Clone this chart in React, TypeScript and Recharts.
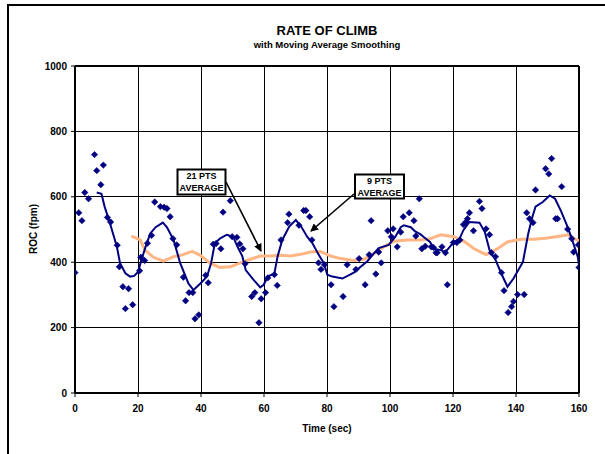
import React from "react";
import {
  ComposedChart,
  Scatter,
  Line,
  XAxis,
  YAxis,
  CartesianGrid,
  ReferenceLine,
} from "recharts";

// measured ROC samples (time in sec, rate of climb in fpm)
const TIME = [
  0, 1.2, 2.2, 3.1, 4.3, 6.2, 6.9, 8.2, 9.0, 10.3, 11.3, 13.4, 14.1, 15.2, 16.0, 17.0, 18.3,
  20.5, 20.9, 22.1, 23.0, 24.3, 25.3, 27.1, 28.3, 29.2, 30.2, 31.1, 32.3, 34.4, 35.1, 36.2,
  37.4, 38.1, 39.3, 41.5, 42.3, 43.9, 44.8, 46.3, 47.0, 49.3, 49.9, 51.4, 52.3, 53.3, 54.0,
  56.1, 57.1, 58.4, 59.1, 60.5, 61.2, 63.3, 64.2, 65.4, 67.5, 67.9, 71.1, 72.6, 73.3, 74.5,
  75.2, 77.3, 78.1, 79.2, 81.3, 82.2, 85.1, 86.4, 89.2, 90.2, 92.1, 93.4, 94.0, 95.5, 96.4,
  97.2, 99.3, 100.4, 101.0, 102.3, 103.4, 104.2, 106.1, 107.6, 108.2, 109.3, 110.1, 111.2,
  113.1, 113.8, 114.6, 115.0, 116.5, 117.6, 118.2, 120.1, 121.2, 122.2, 123.3, 124.1, 124.6,
  125.2, 126.5, 128.4, 129.2, 130.5, 131.6, 132.2, 133.5, 135.4, 136.2, 137.5, 138.6, 139.2,
  140.5, 142.6, 143.4, 144.3, 145.4, 146.2, 149.4, 150.4, 151.3, 152.6, 153.2, 154.5, 156.4,
  157.7, 158.3, 159.8, 160,
];
const ROC = [
  368, 551, 527, 613, 594, 729, 680, 637, 697, 537, 523, 452, 386, 325, 258, 319, 270,
  374, 415, 405, 458, 482, 584, 570, 568, 564, 539, 472, 453, 354, 282, 307,
  307, 227, 239, 360, 337, 455, 457, 441, 553, 588, 478, 476, 456, 441, 395,
  295, 307, 215, 288, 307, 352, 362, 329, 468, 521, 547, 513, 558, 558, 539,
  468, 398, 378, 392, 331, 264, 295, 392, 378, 411, 331, 423, 527, 364, 431,
  398, 496, 478, 502, 447, 492, 539, 551, 527, 480, 594, 441, 449,
  447, 445, 429, 429, 447, 429, 331, 460, 460, 468, 515, 523, 533,
  551, 496, 586, 564, 502, 484, 429, 417, 368, 313, 246, 264, 280,
  301, 301, 551, 533, 521, 621, 686, 670, 717, 533, 533, 631, 501,
  472, 431, 453, 384,
];

// 9 point moving average
const MA9_TIME = [
  6.9, 8.4, 9.4, 11.1, 13.3, 14.3, 16.0, 17.5, 18.8, 20.0, 21.1, 22.4, 23.9, 25.6, 27.9, 29.2,
  31.3, 33.4, 36.0, 37.6, 39.8, 41.9, 43.2, 44.4, 46.1, 48.2, 50.2, 51.6, 53.1, 54.2, 56.7,
  58.8, 59.9, 61.2, 63.3, 64.3, 65.8, 68.0, 70.1, 71.8, 73.7, 75.4, 77.1, 79.0, 80.1, 81.7,
  84.9, 88.5, 90.2, 92.8, 95.1, 96.4, 99.6, 101.7, 103.4, 104.4, 106.6, 108.0, 109.7, 111.0,
  112.7, 114.0, 116.1, 117.6, 120.3, 122.0, 123.3, 125.2, 128.4, 130.1, 131.6, 133.5, 135.4,
  137.3, 139.2, 142.2, 143.9, 145.1, 146.2, 148.5, 150.7, 152.4, 154.3, 156.4, 157.7, 159.6, 160,
];
const MA9 = [
  613, 609, 570, 519, 447, 397, 366, 356, 358, 370, 407, 447, 488, 507, 521, 507,
  468, 397, 335, 315, 335, 356, 397, 458, 473, 484, 478, 447, 419, 376, 346,
  323, 331, 356, 366, 417, 468, 509, 529, 509, 478, 458, 427, 397, 362, 356,
  350, 368, 382, 403, 429, 443, 453, 478, 507, 513, 507, 494, 485, 475,
  462, 441, 437, 431, 462, 470, 498, 523, 521, 492, 437, 407, 364,
  325, 350, 401, 488, 535, 570, 584, 604, 594, 556, 507, 472, 417, 390,
];

// 21 point moving average
const MA21_TIME = [
  17.9, 20.7, 22.2, 24.9, 28.1, 31.3, 33.6, 37.2, 39.8, 42.9, 45.9, 49.3, 52.5, 55.7, 58.8,
  62.0, 65.2, 68.4, 71.6, 74.7, 77.9, 81.1, 84.3, 88.5, 91.7, 94.9, 98.1, 101.2, 105.5, 109.7,
  112.9, 116.1, 120.3, 123.5, 126.7, 130.5, 134.1, 137.3, 141.5, 145.8, 150.0, 154.3, 156.4,
  158.5, 160,
];
const MA21 = [
  480, 468, 437, 415, 403, 417, 421, 433, 421, 397, 384, 386, 398, 409, 419,
  419, 421, 419, 424, 431, 433, 419, 411, 405, 409, 427, 447, 464, 468, 468,
  472, 484, 478, 464, 441, 423, 441, 462, 470, 470, 474, 480, 484,
  472, 465,
];

const X_TICKS = [0, 20, 40, 60, 80, 100, 120, 140, 160];
const Y_TICKS = [0, 200, 400, 600, 800, 1000];

const points = TIME.map((t, i) => ({ t, v: ROC[i] }));
const ma9 = MA9_TIME.map((t, i) => ({ t, v: MA9[i] }));
const ma21 = MA21_TIME.map((t, i) => ({ t, v: MA21[i] }));

const NAVY = "#000080";
const PEACH = "#FFB584";
const FONT = "'Liberation Sans', Arial, sans-serif";

const Diamond = (props: any) => {
  const { cx, cy } = props;
  if (cx == null || cy == null) return null;
  const r = 3.2;
  return (
    <polygon
      points={`${cx},${cy - r} ${cx + r},${cy} ${cx},${cy + r} ${cx - r},${cy}`}
      fill={NAVY}
      stroke={NAVY}
      strokeWidth={0.6}
    />
  );
};

const tickStyle = { fontFamily: FONT, fontSize: 10, fontWeight: 700, fill: "#000" };

export default function App() {
  return (
    <div
      style={{
        position: "absolute",
        left: 0,
        top: 0,
        width: 605,
        height: 454,
        overflow: "hidden",
        background: "#fff",
        fontFamily: FONT,
      }}
    >
      {/* outer chart frame */}
      <div
        style={{
          position: "absolute",
          left: 7,
          top: 4,
          width: 640,
          height: 500,
          border: "2px solid #000",
        }}
      />
      <div style={{ position: "absolute", left: 0, top: 0 }}>
        <ComposedChart
          width={605}
          height={454}
          margin={{ top: 66, right: 26, bottom: 31, left: 0 }}
        >
          <CartesianGrid stroke="#000" strokeWidth={1} shapeRendering="crispEdges" />
          <XAxis
            dataKey="t"
            type="number"
            domain={[0, 160]}
            ticks={X_TICKS}
            interval={0}
            allowDataOverflow
            height={30}
            tickSize={4}
            tickMargin={8}
            axisLine={{ stroke: "#000", strokeWidth: 2 }}
            tickLine={{ stroke: "#000", strokeWidth: 1 }}
            tick={tickStyle}
          />
          <YAxis
            dataKey="v"
            type="number"
            domain={[0, 1000]}
            ticks={Y_TICKS}
            interval={0}
            width={75}
            tickSize={4}
            tickMargin={4}
            axisLine={{ stroke: "#000", strokeWidth: 2 }}
            tickLine={{ stroke: "#000", strokeWidth: 1 }}
            tick={tickStyle}
          />
          <ReferenceLine x={160} stroke="#000" strokeWidth={2} />
          <ReferenceLine y={1000} stroke="#000" strokeWidth={2} />
          <Line
            data={ma21}
            dataKey="v"
            type="linear"
            stroke={PEACH}
            strokeWidth={3}
            dot={false}
            isAnimationActive={false}
          />
          <Scatter
            data={points}
            dataKey="v"
            shape={Diamond}
            isAnimationActive={false}
          />
          <Line
            data={ma9}
            dataKey="v"
            type="linear"
            stroke={NAVY}
            strokeWidth={2}
            dot={false}
            isAnimationActive={false}
          />
        </ComposedChart>
      </div>

      {/* titles and annotations */}
      <svg
        width={605}
        height={454}
        style={{ position: "absolute", left: 0, top: 0, pointerEvents: "none" }}
        fontFamily={FONT}
        fontWeight={700}
      >
        <text x={327} y={35} textAnchor="middle" fontSize={13}>
          RATE OF CLIMB
        </text>
        <text x={327} y={48} textAnchor="middle" fontSize={9.5}>
          with Moving Average Smoothing
        </text>
        <text x={327} y={432} textAnchor="middle" fontSize={10}>
          Time (sec)
        </text>
        <text
          x={0}
          y={0}
          textAnchor="middle"
          fontSize={10}
          transform="translate(37 229) rotate(-90)"
        >
          ROC (fpm)
        </text>

        <defs>
          <marker
            id="arrow"
            markerWidth={8}
            markerHeight={8}
            refX={7}
            refY={4}
            orient="auto"
            markerUnits="userSpaceOnUse"
          >
            <path d="M0,0 L8,4 L0,8 Z" fill="#000" />
          </marker>
        </defs>

        <line x1={226} y1={182} x2={261} y2={251} stroke="#000" strokeWidth={1.6} markerEnd="url(#arrow)" />
        <rect x={177.5} y={169.5} width={48} height={25} fill="#fff" stroke="#000" strokeWidth={2} />
        <text x={201.5} y={179} textAnchor="middle" fontSize={9}>21 PTS</text>
        <text x={201.5} y={191} textAnchor="middle" fontSize={9}>AVERAGE</text>

        <line x1={354} y1={194} x2={311} y2={231} stroke="#000" strokeWidth={1.6} markerEnd="url(#arrow)" />
        <rect x={355} y={174.5} width={49} height={24} fill="#fff" stroke="#000" strokeWidth={2} />
        <text x={379.5} y={184} textAnchor="middle" fontSize={9}>9 PTS</text>
        <text x={379.5} y={195.5} textAnchor="middle" fontSize={9}>AVERAGE</text>
      </svg>
    </div>
  );
}
